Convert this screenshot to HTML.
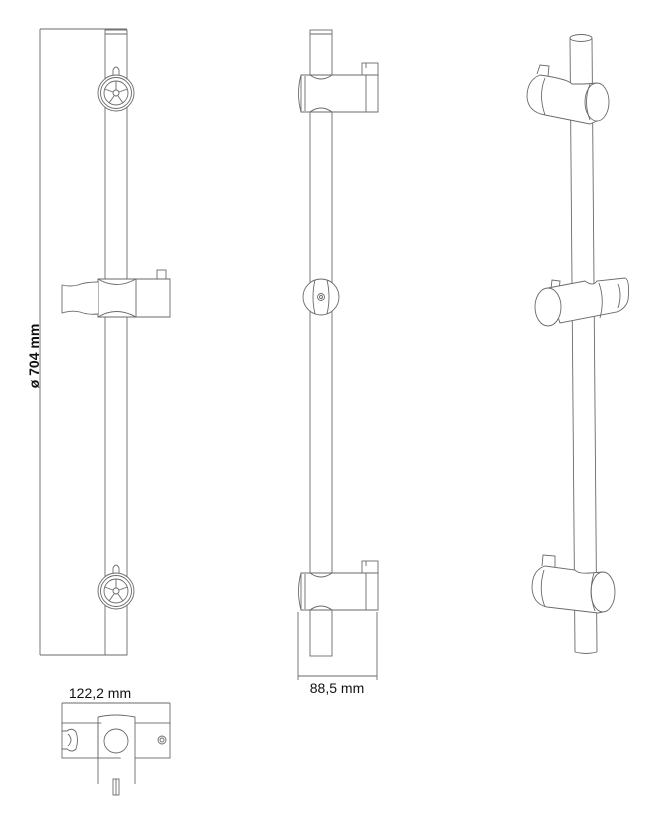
<!DOCTYPE html>
<html><head><meta charset="utf-8"><style>
html,body{margin:0;padding:0;background:#fff;}
svg{display:block}
text{font-family:"Liberation Sans",sans-serif;fill:#111}
</style></head><body>
<svg width="651" height="817" viewBox="0 0 651 817" xmlns="http://www.w3.org/2000/svg">
<g fill="none" stroke="#6a6a6a" stroke-width="0.9">
<!-- LEFT VIEW -->
<line x1="40" y1="29" x2="127" y2="29"/>
<line x1="40" y1="29" x2="40" y2="655"/>
<line x1="40" y1="655" x2="127" y2="655"/>
<rect x="105" y="30" width="22" height="625"/>
<line x1="105" y1="34" x2="127" y2="34"/>
<g id="knob">
<path d="M113,81 L113,70 Q116,64 119,70 L119,81" fill="#fff"/>
<circle cx="116" cy="93" r="18" fill="#fff"/>
<circle cx="116" cy="93" r="15.5"/>
<circle cx="116" cy="93" r="12"/>
<circle cx="116" cy="93" r="3"/>
<line x1="116" y1="90" x2="116" y2="81"/>
<line x1="119" y1="92" x2="127.5" y2="89"/>
<line x1="118" y1="96" x2="123" y2="103"/>
<line x1="114" y1="96" x2="109" y2="103"/>
<line x1="113" y1="92" x2="104.5" y2="89"/>
</g>
<use href="#knob" transform="translate(0,498)"/>
<rect x="157" y="270" width="9" height="9" fill="#fff"/>
<path d="M98,279 L170,279 L170,317 L98,317 Z" fill="#fff"/>
<path d="M98,279 Q116,290 136,279 M98,317 Q116,306 136,317" />
<line x1="98" y1="279" x2="98" y2="317"/>
<line x1="136" y1="279" x2="136" y2="317"/>
<path d="M98,282 Q85,282 78,285 Q70,287 62,285 L62,313 Q72,310 80,312 Q88,315 98,314" fill="#fff"/>
<!-- MIDDLE VIEW -->
<rect x="310" y="30" width="22" height="626"/>
<line x1="310" y1="34" x2="332" y2="34"/>
<g id="bracket">
<rect x="362" y="63" width="16" height="12" fill="#fff"/>
<path d="M301,75 L378,75 L378,112 L301,112 Z" fill="#fff"/>
<path d="M310,75 Q321,83 332,75 M310,112 Q321,104 332,112"/>
<line x1="366" y1="75" x2="366" y2="112"/>
<line x1="366" y1="63" x2="366" y2="68"/>
<path d="M301,75 Q296,93 301,112"/>
<line x1="305" y1="76" x2="305" y2="111"/>
</g>
<use href="#bracket" transform="translate(0,498)"/>
<circle cx="321" cy="297" r="18" fill="#fff"/>
<path d="M315,280 Q311,297 315,314 M327,280 Q331,297 327,314"/>
<circle cx="321" cy="297" r="3.5"/>
<circle cx="321" cy="297" r="1.5"/>
<line x1="298" y1="612" x2="298" y2="680"/>
<line x1="377" y1="612" x2="377" y2="680"/>
<line x1="298" y1="676" x2="377" y2="676"/>
<!-- RIGHT VIEW -->
<path d="M570,38 L575,652 M592,38 L597,652"/>
<ellipse cx="581" cy="38" rx="11" ry="3.5"/>
<path d="M575,652 Q586,655 597,652"/>
<path d="M537,74 L540,65 L549,66 L548,76" fill="#fff"/>
<path d="M540,75 Q527,80 527,97 Q528,112 545,115 L590,124 L597,121 L597,83 Q585,84 583,84 L572,84 Q568,79 540,75 Z" fill="#fff"/>
<path d="M545,78 Q538,95 545,115"/>
<ellipse cx="597" cy="102" rx="12" ry="19" fill="#fff"/>
<path d="M590,84 Q583,102 590,120"/>
<path d="M551,289 L552,280 L560,281 L559,290" fill="#fff"/>
<path d="M548,288 L585,281 Q593,287 597,281 L625,278 Q630,280 628,300 Q626,308 617,312 L560,323 Z" fill="#fff"/>
<path d="M599,283 Q605,300 600,318"/>
<path d="M618,284 Q622,295 618,308"/>
<ellipse cx="548" cy="307" rx="13" ry="19" fill="#fff"/>
<path d="M542,566 L543,555 L555,556 L555,567" fill="#fff"/>
<path d="M545,566 Q532,570 532,588 Q533,604 547,607 L598,613 L603,612 L603,572 L590,573 Q578,574 575,570 Z" fill="#fff"/>
<path d="M544,570 Q538,590 545,607"/>
<ellipse cx="603" cy="592" rx="12" ry="20" fill="#fff"/>
<path d="M594,573 Q588,592 595,611"/>
<!-- PLAN VIEW -->
<line x1="62" y1="703" x2="170" y2="703"/>
<line x1="62" y1="703" x2="62" y2="725"/>
<line x1="170" y1="703" x2="170" y2="725"/>
<rect x="62" y="723" width="108" height="35" fill="#fff"/>
<path d="M98,717 Q116,713 135,717 L135,784 M98,717 L98,784" fill="#fff"/>
<line x1="98" y1="723" x2="98" y2="758"/>
<circle cx="116" cy="741" r="12"/>
<path d="M62,731 L67,731 Q72,727 76,732 Q79,740 76,749 Q72,753 67,749 L62,749"/>
<path d="M68,734 Q74,740 68,746"/>
<circle cx="162" cy="740" r="4"/>
<circle cx="162" cy="740" r="2"/>
<rect x="113" y="779" width="6" height="16"/>
<line x1="116" y1="779" x2="116" y2="795"/>
</g>
<text x="0" y="0" font-size="14" font-weight="bold" transform="translate(39,356) rotate(-90)" text-anchor="middle">ø 704 mm</text>
<text x="337" y="693" font-size="14" text-anchor="middle">88,5 mm</text>
<text x="100" y="698" font-size="14" text-anchor="middle">122,2 mm</text>
</svg>
</body></html>
